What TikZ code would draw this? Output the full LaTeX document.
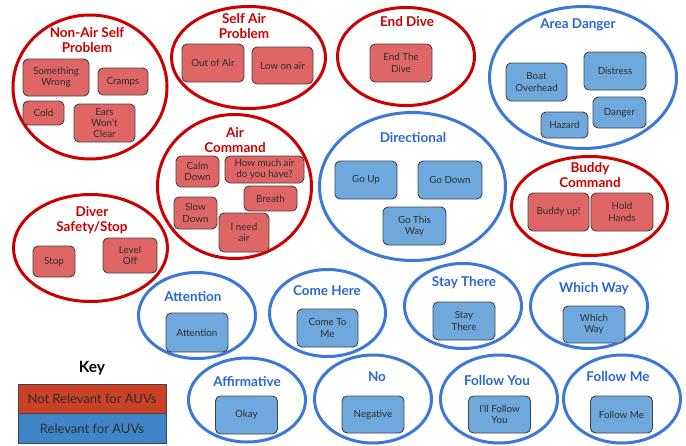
\documentclass[tikz,border=0pt]{standalone}
\usepackage{fontspec}
\setmainfont{Lato}
\usetikzlibrary{shapes.geometric}
\definecolor{redline}{HTML}{CC0000}
\definecolor{blueline}{HTML}{3C78D8}
\definecolor{redtitle}{HTML}{CC0000}
\definecolor{bluetitle}{HTML}{2B66D0}
\definecolor{redfill}{HTML}{E06666}
\definecolor{bluefill}{HTML}{6FA8DC}
\definecolor{boxline}{HTML}{434343}
\definecolor{boxtext}{HTML}{2E2E2E}
\definecolor{keyred}{HTML}{CC4125}
\definecolor{keyblue}{HTML}{3D85C6}
\tikzset{
  grp/.style={ellipse, line width=3pt, inner sep=0pt},
  grpR/.style={grp, draw=redline},
  grpB/.style={grp, draw=blueline},
  ttl/.style={font=\fontsize{13.5}{15.5}\selectfont\bfseries, align=center, inner sep=0pt},
  ttlR/.style={ttl, text=redtitle},
  ttlB/.style={ttl, text=bluetitle},
  gbox/.style={draw=boxline, line width=0.9pt, rounded corners=5pt, align=center,
    inner sep=0pt, text=boxtext, font=\fontsize{9.8}{11.3}\selectfont},
  boxR/.style={gbox, fill=redfill},
  boxB/.style={gbox, fill=bluefill},
  keycell/.style={draw=boxline, line width=0.9pt, minimum width=148pt, minimum height=29.5pt,
    inner sep=0pt, text=boxtext, font=\fontsize{13}{15}\selectfont}
}
\begin{document}
\begin{tikzpicture}[x=1pt,y=-1pt]
\useasboundingbox (0,0) rectangle (686,445);
% Non-Air Self Problem
\node[grpR, minimum width=154pt, minimum height=144pt] (e1) at (90,87) {};
\node[ttlR] (t1) at (87,40) {Non-Air Self\\Problem};
\node[boxR, minimum width=66pt, minimum height=37pt] (b1a) at (56,77.5) {Something\\Wrong};
\node[boxR, minimum width=50pt, minimum height=27pt] (b1b) at (123,81.5) {Cramps};
\node[boxR, minimum width=41pt, minimum height=24pt] (b1c) at (43.5,113) {Cold};
\node[boxR, minimum width=61pt, minimum height=38pt] (b1d) at (104.5,123) {Ears\\Won't\\Clear};
% Self Air Problem
\node[grpR, minimum width=154pt, minimum height=102pt] (e2) at (248.5,57.5) {};
\node[ttlR] (t2) at (244,26) {Self Air\\Problem};
\node[boxR, minimum width=62pt, minimum height=38pt] (b2a) at (213,63) {Out of Air};
\node[boxR, minimum width=61pt, minimum height=37pt] (b2b) at (282.5,65.5) {Low on air};
% End Dive
\node[grpR, minimum width=137pt, minimum height=98pt] (e3) at (406,56.5) {};
\node[ttlR] (t3) at (407,22) {End Dive};
\node[boxR, minimum width=62pt, minimum height=38pt] (b3a) at (401,63) {End The\\Dive};
% Area Danger
\node[grpB, minimum width=187pt, minimum height=142pt] (e4) at (583,77.5) {};
\node[ttlB] (t4) at (578,25) {Area Danger};
\node[boxB, minimum width=61pt, minimum height=38pt] (b4a) at (536.5,82) {Boat\\Overhead};
\node[boxB, minimum width=62pt, minimum height=38pt] (b4b) at (615,71) {Distress};
\node[boxB, minimum width=47pt, minimum height=26pt] (b4c) at (564.5,125) {Hazard};
\node[boxB, minimum width=53pt, minimum height=31pt] (b4d) at (619.5,112.5) {Danger};
% Directional
\node[grpB, minimum width=186pt, minimum height=148pt] (e5) at (412.5,186.5) {};
\node[ttlB] (t5) at (413,138) {Directional};
\node[boxB, minimum width=62pt, minimum height=38pt] (b5a) at (366,180) {Go Up};
\node[boxB, minimum width=64pt, minimum height=38pt] (b5b) at (450,180) {Go Down};
\node[boxB, minimum width=63pt, minimum height=38pt] (b5c) at (414.5,226) {Go This\\Way};
% Buddy Command
\node[grpR, minimum width=156pt, minimum height=99pt] (e6) at (589.5,206) {};
\node[ttlR] (t6) at (590,175) {Buddy\\Command};
\node[boxR, minimum width=61pt, minimum height=38pt] (b6a) at (558.5,212) {Buddy up!};
\node[boxR, minimum width=62pt, minimum height=38pt] (b6b) at (622,212) {Hold\\Hands};
% Air Command
\node[grpR, minimum width=154pt, minimum height=144pt] (e7) at (234.5,186.5) {};
\node[ttlR] (t7) at (235,140) {Air\\Command};
\node[boxR, minimum width=43pt, minimum height=31pt] (b7a) at (197.5,171.5) {Calm\\Down};
\node[boxR, minimum width=79pt, minimum height=27pt] (b7b) at (264.5,169.5) {How much air\\do you have?};
\node[boxR, minimum width=53pt, minimum height=25pt] (b7c) at (270.5,198.5) {Breath};
\node[boxR, minimum width=43pt, minimum height=32pt] (b7d) at (195.5,213) {Slow\\Down};
\node[boxR, minimum width=50pt, minimum height=39pt] (b7e) at (244,232.5) {I need\\air};
% Diver Safety/Stop
\node[grpR, minimum width=154pt, minimum height=107pt] (e8) at (90.5,248) {};
\node[ttlR] (t8) at (92,220) {Diver\\Safety/Stop};
\node[boxR, minimum width=42pt, minimum height=31pt] (b8a) at (54,261.5) {Stop};
\node[boxR, minimum width=54pt, minimum height=35pt] (b8b) at (130,255.5) {Level\\Off};
% Attention
\node[grpB, minimum width=117pt, minimum height=86pt] (e9) at (197,315.5) {};
\node[ttlB] (t9) at (193,297) {Attention};
\node[boxB, minimum width=62pt, minimum height=39pt] (b9a) at (197,332.5) {Attention};
% Come Here
\node[grpB, minimum width=116pt, minimum height=87pt] (e10) at (327.5,313) {};
\node[ttlB] (t10) at (327,291) {Come Here};
\node[boxB, minimum width=61pt, minimum height=38pt] (b10a) at (327.5,328) {Come To\\Me};
% Stay There
\node[grpB, minimum width=117pt, minimum height=85pt] (e11) at (463,306) {};
\node[ttlB] (t11) at (464,283) {Stay There};
\node[boxB, minimum width=62pt, minimum height=38pt] (b11a) at (464,321) {Stay\\There};
% Which Way
\node[grpB, minimum width=117pt, minimum height=85pt] (e12) at (589,306) {};
\node[ttlB] (t12) at (594,289) {Which Way};
\node[boxB, minimum width=62pt, minimum height=37pt] (b12a) at (594,324.5) {Which\\Way};
% Affirmative
\node[grpB, minimum width=117pt, minimum height=84pt] (e13) at (247,400) {};
\node[ttlB] (t13) at (247,382) {Affirmative};
\node[boxB, minimum width=62pt, minimum height=38pt] (b13a) at (246.5,415) {Okay};
% No
\node[grpB, minimum width=117pt, minimum height=88pt] (e14) at (373,399) {};
\node[ttlB] (t14) at (377,377) {No};
\node[boxB, minimum width=62pt, minimum height=37pt] (b14a) at (373,414.5) {Negative};
% Follow You
\node[grpB, minimum width=117pt, minimum height=88pt] (e15) at (499,399) {};
\node[ttlB] (t15) at (497,381) {Follow You};
\node[boxB, minimum width=62pt, minimum height=37pt] (b15a) at (499.5,414.5) {I'll Follow\\You};
% Follow Me
\node[grpB, minimum width=117pt, minimum height=88pt] (e16) at (622,399) {};
\node[ttlB] (t16) at (618,377) {Follow Me};
\node[boxB, minimum width=62pt, minimum height=37pt] (b16a) at (621.5,414.5) {Follow Me};
% Key
\node[font=\fontsize{15.5}{17}\selectfont\bfseries, inner sep=0pt] (keyt) at (92,368) {Key};
\node[keycell, fill=keyred] (keyr) at (92,399) {Not Relevant for AUVs};
\node[keycell, fill=keyblue] (keyb) at (92,428.5) {Relevant for AUVs};
\end{tikzpicture}
\end{document}
